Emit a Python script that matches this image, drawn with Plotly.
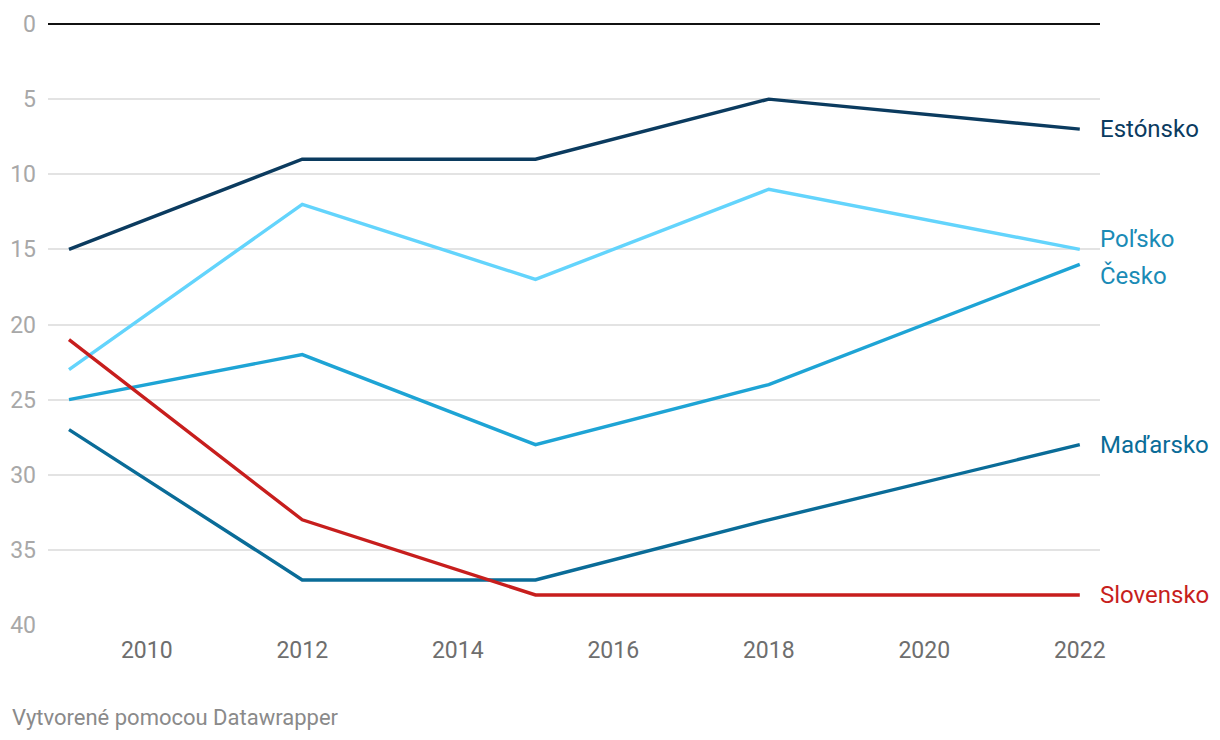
import plotly.graph_objects as go

years = [2009, 2012, 2015, 2018, 2022]
estonsko = [15, 9, 9, 5, 7]
polsko = [23, 12, 17, 11, 15]
cesko = [25, 22, 28, 24, 16]
madarsko = [27, 37, 37, 33, 28]
slovensko = [21, 33, 38, 38, 38]

series = [
    ("Estónsko", estonsko, "#0b3b5f", "#0b3b5f", 0),
    ("Poľsko", polsko, "#63d4fc", "#1a8bb6", -10.5),
    ("Česko", cesko, "#1ea4d5", "#1a8bb6", 11.5),
    ("Maďarsko", madarsko, "#0a6c98", "#0a6c98", 0),
    ("Slovensko", slovensko, "#c71e1d", "#c71e1d", 0),
]

fig = go.Figure()
for name, vals, lc, tc, dy in series:
    fig.add_trace(go.Scatter(x=years, y=vals, mode="lines", name=name,
                             line=dict(color=lc, width=3.4), hoverinfo="skip"))
    fig.add_annotation(x=years[-1], y=vals[-1], text=name, xref="x", yref="y",
                       xanchor="left", yanchor="middle", xshift=18, yshift=-dy,
                       showarrow=False, font=dict(family="Roboto", size=24, color=tc))

fig.add_annotation(xref="paper", yref="paper", xanchor="left", yanchor="middle",
                   x=(2 - 40) / 1052, y=-92 / 601,
                   text="Vytvorené pomocou Datawrapper", showarrow=False,
                   font=dict(family="Roboto", size=22, color="#8a8a8a"))

fig.update_layout(
    width=1220, height=740,
    margin=dict(l=40, r=128, t=16, b=123),
    plot_bgcolor="white", paper_bgcolor="white",
    showlegend=False,
    font=dict(family="Roboto"),
    xaxis=dict(range=[2008.73, 2022.26], tickmode="linear", tick0=2010, dtick=2,
               showgrid=False, zeroline=False, showline=False, automargin=False,
               tickfont=dict(size=23, color="#6e6e6e"), ticks="", ticklabelstandoff=9),
    yaxis=dict(range=[40, 0], tickmode="linear", tick0=0, dtick=5,
               showgrid=True, gridcolor="#e3e3e3", gridwidth=1.5,
               zeroline=True, zerolinecolor="#111111", zerolinewidth=2,
               showline=False, ticks="", ticklabelstandoff=11, automargin=False,
               tickfont=dict(size=23, color="#a8a8a8")),
)

fig.write_html("out.html")
